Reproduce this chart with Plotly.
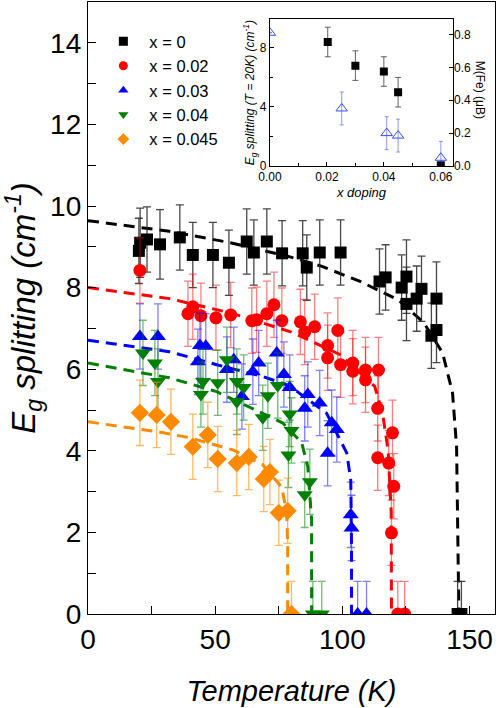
import plotly.graph_objects as go

FONT = "Arial, Liberation Sans, sans-serif"

# ── main panel data: Eg splitting vs temperature ─────────────────────────
t_x0 = [20.0, 20.5, 23.2, 28.3, 36.1, 41.2, 49.1, 55.4, 62.4, 65.2, 70.3, 76.3,
        84.4, 86.0, 91.1, 99.3, 114.6, 117.0, 123.3, 125.2, 125.2, 129.2, 131.1,
        137.0, 135.0, 137.0, 145.3, 146.8]
e_x0 = [8.9, 9.1, 9.18, 9.06, 9.23, 8.8, 8.8, 8.61, 9.13, 8.86, 9.13, 8.84,
        8.84, 8.49, 8.86, 8.86, 8.15, 8.25, 8.0, 8.27, 7.6, 7.73, 7.97,
        7.73, 6.82, 6.96, 0, 0]
err_x0 = [0.8, 0.85, 0.8, 0.85, 0.8, 0.8, 0.8, 0.8, 0.8, 0.8, 0.8, 0.8,
          0.8, 0.8, 0.8, 0.8, 0.8, 0.8, 0.8, 0.9, 0.9, 0.8, 0.8,
          0.9, 0.8, 0.8, 0.8, 0.8]

t_x002 = [20.4, 39.3, 41.2, 44.4, 50.3, 56.1, 64.4, 66.3, 70.3, 73.1, 76.2, 83.5,
          85.2, 89.1, 94.2, 94.2, 98.2, 99.3, 104.1, 104.1, 109.1, 109.1, 114.2,
          113.9, 119.7, 113.9, 118.2, 120.2, 119.3, 121.8, 124.5]
e_x002 = [8.42, 7.36, 7.53, 7.31, 7.26, 7.33, 7.19, 7.21, 7.36, 7.58, 7.19, 7.16,
          6.91, 7.04, 6.58, 6.28, 6.95, 6.11, 6.15, 5.95, 5.98, 5.74, 5.98,
          5.04, 4.44, 3.83, 3.7, 3.13, 1.99, 0, 0]
err_x002 = [0.8] * len(t_x002)

t_x003 = [20.4, 27.5, 44.0, 46.3, 43.2, 57.3, 54.6, 67.1, 64.8, 74.2, 77.0, 79.3,
          60.5, 86.4, 85.2, 91.1, 95.8, 97.8, 94.2, 103.3, 103.6, 106.0, 109.5]
e_x003 = [6.8, 6.8, 6.58, 6.56, 6.18, 6.23, 5.99, 6.15, 5.94, 6.4, 5.87, 5.55,
          5.33, 5.38, 5.04, 5.17, 4.69, 4.52, 3.94, 2.43, 2.11, 0, 0]
err_x003 = [0.8] * len(t_x003)

t_x004 = [21.6, 26.3, 27.5, 44.4, 45.2, 51.0, 54.6, 58.5, 58.5, 61.2, 68.7, 70.7,
          74.6, 78.8, 79.3, 80.0, 85.2, 87.2, 88.4, 91.9]
e_x004 = [6.4, 6.15, 5.7, 5.38, 5.7, 5.67, 6.23, 5.7, 5.2, 5.55, 4.81, 5.35,
          5.6, 3.9, 4.9, 4.5, 2.92, 3.24, 0, 0]
err_x004 = [0.8] * len(t_x004)

t_x0045 = [20.4, 27.0, 32.6, 41.2, 47.1, 51.0, 58.5, 63.2, 69.1, 71.5, 75.0, 78.5, 80.0]
e_x0045 = [4.93, 4.88, 4.71, 4.1, 4.39, 3.8, 3.7, 3.85, 3.31, 3.48, 2.48, 2.53, 0]
err_x0045 = [0.8] * len(t_x0045)

# dashed fit curves
fit_t_x0 = [0, 32, 56, 79, 92, 107, 122, 132, 139.4, 143.3, 144.9, 145.3, 145.7, 145.8]
fit_e_x0 = [9.64, 9.38, 9.1, 8.76, 8.52, 8.15, 7.7, 7.14, 6.4, 5.42, 4.1, 2.06, 0.8, 0]
fit_t_x002 = [0, 32, 56, 69, 80, 99, 112.7, 115.8, 118, 119.2, 119.3]
fit_e_x002 = [8.0, 7.73, 7.38, 7.13, 6.91, 6.36, 5.58, 4.92, 4.0, 2.5, 0]
fit_t_x003 = [0, 32, 50.6, 68.7, 79, 93.8, 101.7, 103.3, 103.6, 103.6]
fit_e_x003 = [6.71, 6.43, 6.11, 5.82, 5.6, 4.92, 3.95, 3.28, 1.64, 0]
fit_t_x004 = [0, 32, 50.6, 76.6, 84, 86.4, 87.9, 87.9]
fit_e_x004 = [6.15, 5.79, 5.45, 4.68, 4.2, 3.61, 2.31, 0]
fit_t_x0045 = [0, 27, 40, 57, 68.7, 76.2, 78.1, 78.5, 78.5]
fit_e_x0045 = [4.71, 4.47, 4.32, 4.02, 3.66, 3.1, 2.48, 1.64, 0]

labels = ["x = 0", "x = 0.02", "x = 0.03", "x = 0.04", "x = 0.045"]

# ── inset data ───────────────────────────────────────────────────────────
ins_x = [0.0203, 0.03, 0.04, 0.045, 0.06]
ins_eg = [8.4, 6.8, 6.4, 5.0, 0.05]
ins_eg_err = [1.0, 1.0, 1.0, 1.0, 0.0]
ins_mx = [0.0, 0.0252, 0.041, 0.045, 0.06]
ins_m = [0.81, 0.35, 0.2, 0.185, 0.05]
ins_m_err = [0.0, 0.1, 0.1, 0.1, 0.1]

series = [
    (t_x0, e_x0, err_x0, fit_t_x0, fit_e_x0, "black", "rgba(40,40,40,0.85)", "square", 12),
    (t_x002, e_x002, err_x002, fit_t_x002, fit_e_x002, "#ff0000", "rgba(255,0,0,0.5)", "circle", 13),
    (t_x003, e_x003, err_x003, fit_t_x003, fit_e_x003, "#0000ff", "rgba(0,0,255,0.5)", "triangle-up", 14),
    (t_x004, e_x004, err_x004, fit_t_x004, fit_e_x004, "#008000", "rgba(0,128,0,0.55)", "triangle-down", 14),
    (t_x0045, e_x0045, err_x0045, fit_t_x0045, fit_e_x0045, "#ff8a00", "rgba(255,138,0,0.6)", "diamond", 14),
]

fig = go.Figure()

# fits first, markers on top
for t, e, err, ft, fe, col, ecol, sym, sz in series:
    fig.add_trace(go.Scatter(
        x=ft, y=fe, mode="lines", showlegend=False,
        line=dict(color=col, width=3, dash="11px,7px"),
    ))

for t, e, err, ft, fe, col, ecol, sym, sz in series:
    fig.add_trace(go.Scatter(
        x=t, y=e, mode="markers", showlegend=False,
        marker=dict(symbol=sym, size=sz, color=col, line=dict(width=0)),
        error_y=dict(type="data", array=err, color=ecol, thickness=1.3, width=4),
    ))

# legend entries with small symbols
for lab, (t, e, err, ft, fe, col, ecol, sym, sz) in zip(labels, series):
    fig.add_trace(go.Scatter(
        x=[None], y=[None], mode="markers", name=lab,
        marker=dict(symbol=sym, size=9, color=col),
    ))

# inset traces
fig.add_trace(go.Scatter(
    x=ins_x, y=ins_eg, mode="markers", showlegend=False,
    xaxis="x2", yaxis="y2",
    marker=dict(symbol="square", size=8, color="black"),
    error_y=dict(type="data", array=ins_eg_err, color="rgba(60,60,60,0.8)", thickness=1, width=3),
))
fig.add_trace(go.Scatter(
    x=ins_mx, y=ins_m, mode="markers", showlegend=False,
    xaxis="x2", yaxis="y3",
    marker=dict(symbol="triangle-up-open", size=10, color="#3050ff", line=dict(width=1)),
    error_y=dict(type="data", array=ins_m_err, color="rgba(60,80,255,0.6)", thickness=1, width=2),
))

ax_common = dict(showline=True, linecolor="black", linewidth=1.3, mirror=True,
                 ticks="inside", ticklen=8, tickwidth=1.3, tickcolor="black",
                 showgrid=False, zeroline=False)

fig.update_layout(
    width=498, height=708,
    margin=dict(l=88, r=3, t=2, b=94),
    paper_bgcolor="white", plot_bgcolor="white",
    font=dict(family=FONT, color="black"),
    showlegend=True,
    legend=dict(x=0.023, y=0.964, xanchor="left", yanchor="top",
                font=dict(size=16.5, family=FONT), bgcolor="rgba(0,0,0,0)",
                tracegroupgap=0, itemwidth=42),
    xaxis=dict(range=[0, 160], dtick=50, tick0=0,
               minor=dict(dtick=25, ticks="inside", ticklen=8, tickcolor="black", tickwidth=1.3),
               tickfont=dict(size=28),
               title=dict(text="<i>Temperature (K)</i>", font=dict(size=29), standoff=26),
               **ax_common),
    yaxis=dict(range=[0, 15], dtick=2, tick0=0,
               minor=dict(dtick=1, ticks="inside", ticklen=8, tickcolor="black", tickwidth=1.3),
               tickfont=dict(size=28),
               title=dict(text="<i>E<sub>g</sub> splitting (cm<sup>-1</sup>)</i>",
                          font=dict(size=33), standoff=8),
               **ax_common),
    xaxis2=dict(domain=[0.447, 0.897], anchor="y2", range=[0, 0.0643],
                dtick=0.02, tickformat=".2f",
                minor=dict(dtick=0.01, ticks="inside", ticklen=3, tickcolor="black"),
                tickfont=dict(size=12),
                title=dict(text="<i>x doping</i>", font=dict(size=13), standoff=4),
                showline=True, linecolor="black", linewidth=1, mirror=True,
                ticks="inside", ticklen=4, tickcolor="black",
                showgrid=False, zeroline=False),
    yaxis2=dict(domain=[0.732, 0.972], anchor="x2", range=[0, 9.95],
                dtick=4, minor=dict(dtick=2, ticks="inside", ticklen=3, tickcolor="black"),
                tickfont=dict(size=12),
                title=dict(text="<i>E<sub>g</sub> splitting (T = 20K) (cm<sup>-1</sup>)</i>",
                           font=dict(size=12), standoff=2),
                showline=True, linecolor="black", linewidth=1, mirror=True,
                ticks="inside", ticklen=4, tickcolor="black",
                showgrid=False, zeroline=False),
    yaxis3=dict(overlaying="y2", anchor="x2", side="right", range=[0, 0.893],
                dtick=0.2, tickformat=".1f", tickfont=dict(size=12),
                showline=False, ticks="inside", ticklen=4, tickcolor="black",
                showgrid=False, zeroline=False),
)

fig.add_annotation(
    text="M(Fe) (μB)", textangle=90, xref="paper", yref="paper",
    x=0.965, y=0.857, xanchor="center", yanchor="middle",
    showarrow=False, font=dict(size=12, family=FONT),
)

# drop the page's default body margin so the figure sits at the window's corner
fig.write_html("out.html", config={"displayModeBar": False},
               post_script="document.body.style.margin='0';")
